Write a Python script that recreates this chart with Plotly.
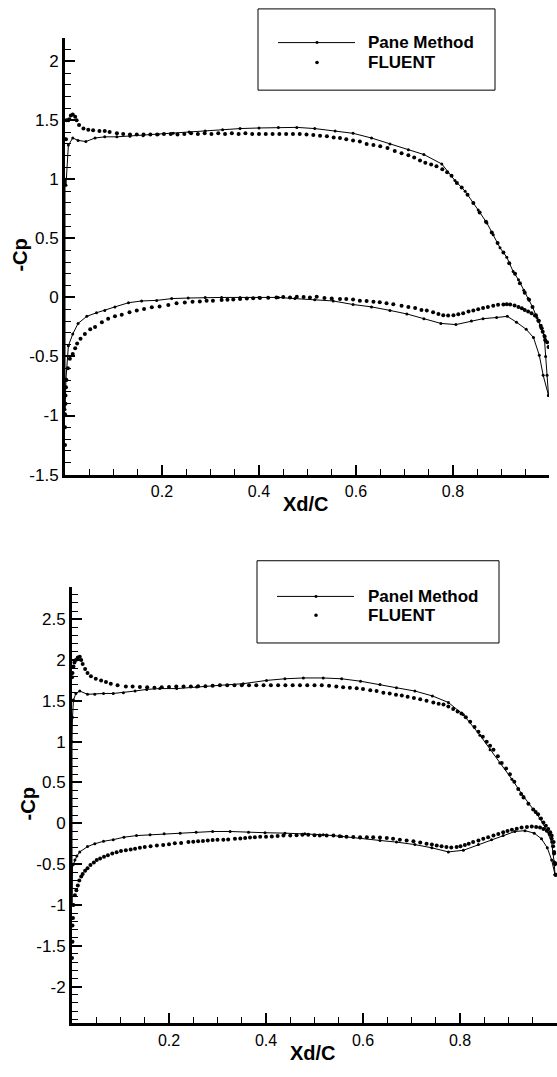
import plotly.graph_objects as go

W, H = 557, 1077
FONT = "Liberation Sans, Arial, sans-serif"

# ---------------- Top chart data ----------------
top_panel_upper_x = [0.000, 0.002, 0.007, 0.016, 0.027, 0.043, 0.062, 0.082, 0.107, 0.134, 0.161, 0.192,
                     0.223, 0.256, 0.289, 0.325, 0.361, 0.400, 0.440, 0.478, 0.515, 0.557, 0.594, 0.632,
                     0.670, 0.708, 0.740, 0.777, 0.804, 0.825, 0.852, 0.870, 0.883, 0.897, 0.911, 0.924,
                     0.935, 0.946, 0.955, 0.964, 0.973, 0.981, 0.988, 0.991, 0.994, 0.997]
top_panel_upper_y = [1.00, 0.95, 1.29, 1.35, 1.33, 1.32, 1.35, 1.36, 1.36, 1.365, 1.37, 1.38,
                     1.39, 1.40, 1.41, 1.42, 1.43, 1.435, 1.44, 1.44, 1.43, 1.41, 1.39, 1.35,
                     1.30, 1.25, 1.21, 1.13, 0.99, 0.90, 0.74, 0.63, 0.53, 0.42, 0.34, 0.22,
                     0.15, 0.06, -0.01, -0.08, -0.17, -0.25, -0.32, -0.50, -0.66, -0.83]
top_panel_lower_x = [0.000, 0.002, 0.007, 0.016, 0.027, 0.045, 0.065, 0.082, 0.103, 0.131, 0.158, 0.189,
                     0.220, 0.254, 0.289, 0.323, 0.361, 0.400, 0.440, 0.474, 0.515, 0.553, 0.594, 0.632,
                     0.670, 0.705, 0.740, 0.775, 0.806, 0.838, 0.862, 0.890, 0.912, 0.931, 0.951, 0.966,
                     0.978, 0.986, 0.997]
top_panel_lower_y = [-0.95, -0.69, -0.41, -0.31, -0.22, -0.16, -0.13, -0.11, -0.08, -0.045, -0.03, -0.025,
                     -0.01, -0.005, 0.0, 0.0, 0.0, 0.0, 0.0, -0.01, -0.02, -0.03, -0.06, -0.08,
                     -0.11, -0.14, -0.18, -0.22, -0.23, -0.20, -0.18, -0.17, -0.16, -0.21, -0.27, -0.34,
                     -0.49, -0.66, -0.83]

top_fluent_upper_x = [0.002, 0.003, 0.007, 0.009, 0.012, 0.016, 0.021, 0.024, 0.029, 0.038, 0.048, 0.058,
                      0.071, 0.082, 0.092, 0.107, 0.120, 0.134, 0.148, 0.162, 0.176, 0.190, 0.204, 0.218,
                      0.232, 0.246, 0.260, 0.274, 0.288, 0.302, 0.316, 0.330, 0.344, 0.358, 0.372, 0.386,
                      0.400, 0.414, 0.428, 0.442, 0.456, 0.470, 0.484, 0.498, 0.512, 0.526, 0.540, 0.554,
                      0.567, 0.580, 0.594, 0.608, 0.622, 0.636, 0.650, 0.665, 0.680, 0.694, 0.708, 0.720,
                      0.732, 0.743, 0.755, 0.766, 0.778, 0.788, 0.797, 0.808, 0.818, 0.830, 0.842, 0.855,
                      0.868, 0.880, 0.892, 0.904, 0.916, 0.928, 0.938, 0.948, 0.957, 0.964, 0.971, 0.977,
                      0.983, 0.989, 0.994]
top_fluent_upper_y = [1.34, 1.50, 1.50, 1.51, 1.54, 1.55, 1.53, 1.50, 1.46, 1.43, 1.42, 1.415,
                      1.41, 1.41, 1.40, 1.39, 1.385, 1.38, 1.38, 1.38, 1.38, 1.38, 1.385, 1.385,
                      1.38, 1.385, 1.39, 1.385, 1.39, 1.385, 1.39, 1.385, 1.39, 1.385, 1.39, 1.385,
                      1.385, 1.385, 1.385, 1.385, 1.385, 1.385, 1.385, 1.38, 1.375, 1.37, 1.365, 1.355,
                      1.35, 1.34, 1.33, 1.32, 1.30, 1.29, 1.28, 1.265, 1.24, 1.22, 1.205, 1.185,
                      1.16, 1.14, 1.125, 1.11, 1.085, 1.06, 1.03, 0.97, 0.93, 0.87, 0.80, 0.72,
                      0.64, 0.55, 0.46, 0.38, 0.29, 0.20, 0.12, 0.04, -0.02, -0.08, -0.15, -0.20,
                      -0.26, -0.33, -0.38]
top_fluent_lower_x = [0.000, 0.000, 0.000, 0.001, 0.001, 0.002, 0.003, 0.006, 0.010, 0.016, 0.021, 0.025,
                      0.032, 0.041, 0.052, 0.062, 0.076, 0.089, 0.103, 0.117, 0.133, 0.148, 0.163, 0.179,
                      0.195, 0.213, 0.230, 0.247, 0.263, 0.278, 0.292, 0.305, 0.323, 0.335, 0.347, 0.361,
                      0.375, 0.388, 0.402, 0.419, 0.436, 0.450, 0.464, 0.478, 0.492, 0.505, 0.519, 0.535,
                      0.550, 0.567, 0.580, 0.594, 0.608, 0.622, 0.636, 0.649, 0.663, 0.677, 0.694, 0.708,
                      0.722, 0.735, 0.746, 0.759, 0.770, 0.780, 0.790, 0.801, 0.811, 0.821, 0.832, 0.842,
                      0.852, 0.862, 0.872, 0.883, 0.893, 0.904, 0.911, 0.918, 0.927, 0.935, 0.942, 0.948,
                      0.955, 0.962, 0.969, 0.976, 0.981, 0.985, 0.990, 0.997]
top_fluent_lower_y = [-1.25, -1.10, -0.99, -0.90, -0.83, -0.76, -0.70, -0.60, -0.52, -0.48, -0.43, -0.39,
                      -0.35, -0.31, -0.27, -0.25, -0.21, -0.18, -0.16, -0.146, -0.126, -0.11, -0.098, -0.084,
                      -0.076, -0.064, -0.05, -0.042, -0.036, -0.034, -0.028, -0.028, -0.022, -0.02, -0.017, -0.014,
                      -0.008, -0.006, -0.005, -0.003, 0.0, 0.003, 0.0, 0.005, 0.004, 0.0, 0.005, -0.004,
                      -0.008, -0.014, -0.014, -0.018, -0.028, -0.03, -0.036, -0.04, -0.05, -0.058, -0.07, -0.08,
                      -0.09, -0.106, -0.11, -0.126, -0.14, -0.15, -0.152, -0.15, -0.142, -0.134, -0.12, -0.11,
                      -0.10, -0.09, -0.08, -0.07, -0.063, -0.06, -0.058, -0.06, -0.068, -0.08, -0.092, -0.106,
                      -0.12, -0.135, -0.154, -0.196, -0.24, -0.29, -0.36, -0.42]

# ---------------- Bottom chart data ----------------
bot_panel_upper_x = [0.000, 0.001, 0.003, 0.008, 0.016, 0.032, 0.047, 0.065, 0.085, 0.106, 0.130, 0.154,
                     0.181, 0.216, 0.257, 0.305, 0.353, 0.401, 0.439, 0.477, 0.518, 0.556, 0.595, 0.635,
                     0.669, 0.707, 0.743, 0.776, 0.807, 0.841, 0.862, 0.882, 0.907, 0.931, 0.951, 0.965,
                     0.979, 0.989, 0.994, 0.996]
bot_panel_upper_y = [1.00, 1.30, 1.51, 1.59, 1.62, 1.58, 1.58, 1.59, 1.59, 1.60, 1.62, 1.64,
                     1.65, 1.65, 1.67, 1.69, 1.71, 1.75, 1.77, 1.78, 1.78, 1.77, 1.74, 1.70,
                     1.66, 1.62, 1.56, 1.48, 1.33, 1.08, 0.90, 0.74, 0.54, 0.33, 0.17, 0.06,
                     -0.09, -0.23, -0.47, -0.63]
bot_panel_lower_x = [0.000, 0.001, 0.003, 0.006, 0.010, 0.016, 0.032, 0.047, 0.065, 0.085, 0.107, 0.133,
                     0.161, 0.190, 0.223, 0.256, 0.290, 0.326, 0.364, 0.398, 0.439, 0.480, 0.518, 0.556,
                     0.594, 0.635, 0.669, 0.707, 0.742, 0.776, 0.807, 0.838, 0.865, 0.889, 0.913, 0.934,
                     0.953, 0.968, 0.980, 0.989, 0.996]
bot_panel_lower_y = [-1.00, -0.51, -0.50, -0.45, -0.40, -0.35, -0.285, -0.25, -0.22, -0.20, -0.17, -0.15,
                     -0.14, -0.127, -0.12, -0.11, -0.10, -0.10, -0.11, -0.115, -0.12, -0.127, -0.14, -0.16,
                     -0.18, -0.21, -0.23, -0.26, -0.30, -0.35, -0.33, -0.26, -0.20, -0.15, -0.10, -0.09,
                     -0.12, -0.19, -0.30, -0.45, -0.63]

bot_fluent_upper_x = [0.000, 0.001, 0.003, 0.005, 0.008, 0.012, 0.016, 0.019, 0.022, 0.027, 0.032, 0.039,
                      0.049, 0.060, 0.070, 0.080, 0.094, 0.111, 0.125, 0.140, 0.155, 0.170, 0.185, 0.200,
                      0.215, 0.230, 0.245, 0.260, 0.275, 0.290, 0.305, 0.320, 0.335, 0.350, 0.365, 0.380,
                      0.395, 0.410, 0.425, 0.440, 0.455, 0.470, 0.485, 0.500, 0.515, 0.530, 0.545, 0.559,
                      0.573, 0.587, 0.600, 0.615, 0.628, 0.642, 0.655, 0.668, 0.680, 0.692, 0.705, 0.718,
                      0.731, 0.745, 0.756, 0.766, 0.776, 0.786, 0.795, 0.803, 0.812, 0.821, 0.830, 0.838,
                      0.847, 0.855, 0.862, 0.869, 0.878, 0.886, 0.895, 0.903, 0.912, 0.920, 0.926, 0.931,
                      0.941, 0.951, 0.956, 0.961, 0.967, 0.972, 0.977, 0.982, 0.986, 0.989, 0.993, 0.994,
                      0.996, 0.998]
bot_fluent_upper_y = [1.79, 1.84, 1.92, 1.97, 2.00, 2.03, 2.04, 2.00, 1.95, 1.89, 1.84, 1.80,
                      1.77, 1.75, 1.73, 1.71, 1.69, 1.675, 1.675, 1.67, 1.665, 1.66, 1.665, 1.67,
                      1.675, 1.675, 1.675, 1.68, 1.68, 1.685, 1.69, 1.69, 1.69, 1.69, 1.69, 1.69,
                      1.69, 1.69, 1.69, 1.69, 1.69, 1.69, 1.69, 1.69, 1.69, 1.685, 1.675, 1.665,
                      1.66, 1.655, 1.645, 1.63, 1.62, 1.60, 1.59, 1.575, 1.565, 1.55, 1.535, 1.52,
                      1.50, 1.48, 1.465, 1.455, 1.43, 1.40, 1.37, 1.345, 1.30, 1.245, 1.18, 1.12,
                      1.06, 1.00, 0.95, 0.90, 0.82, 0.74, 0.67, 0.60, 0.51, 0.42, 0.36, 0.315,
                      0.24, 0.17, 0.14, 0.11, 0.06, 0.01, -0.03, -0.07, -0.11, -0.15, -0.23, -0.35,
                      -0.49, -0.63]
bot_fluent_lower_x = [0.000, 0.001, 0.001, 0.002, 0.003, 0.006, 0.009, 0.012, 0.015, 0.019, 0.022, 0.027,
                      0.032, 0.038, 0.045, 0.051, 0.058, 0.066, 0.074, 0.083, 0.092, 0.101, 0.111, 0.121,
                      0.130, 0.140, 0.150, 0.162, 0.175, 0.188, 0.200, 0.212, 0.225, 0.240, 0.250, 0.260,
                      0.270, 0.280, 0.290, 0.300, 0.312, 0.322, 0.336, 0.347, 0.357, 0.367, 0.377, 0.388,
                      0.400, 0.412, 0.424, 0.436, 0.450, 0.463, 0.475, 0.487, 0.500, 0.511, 0.525, 0.539,
                      0.552, 0.566, 0.580, 0.594, 0.608, 0.621, 0.635, 0.649, 0.662, 0.676, 0.690, 0.704,
                      0.718, 0.731, 0.742, 0.752, 0.762, 0.772, 0.782, 0.793, 0.801, 0.810, 0.818, 0.827,
                      0.838, 0.848, 0.858, 0.869, 0.879, 0.889, 0.898, 0.907, 0.917, 0.927, 0.938, 0.948,
                      0.957, 0.965, 0.972, 0.979, 0.985, 0.989, 0.992, 0.994, 0.996, 0.997]
bot_fluent_lower_y = [-1.65, -1.45, -1.25, -1.16, -1.00, -0.88, -0.82, -0.76, -0.70, -0.65, -0.62, -0.58,
                      -0.55, -0.51, -0.48, -0.45, -0.43, -0.41, -0.39, -0.37, -0.355, -0.34, -0.33, -0.32,
                      -0.31, -0.30, -0.29, -0.28, -0.27, -0.265, -0.255, -0.245, -0.24, -0.23, -0.225, -0.22,
                      -0.215, -0.21, -0.205, -0.20, -0.20, -0.198, -0.19, -0.185, -0.18, -0.175, -0.17, -0.165,
                      -0.165, -0.16, -0.155, -0.15, -0.15, -0.145, -0.14, -0.14, -0.145, -0.15, -0.15, -0.15,
                      -0.158, -0.165, -0.168, -0.17, -0.17, -0.17, -0.175, -0.18, -0.19, -0.20, -0.21, -0.22,
                      -0.235, -0.25, -0.26, -0.27, -0.28, -0.29, -0.295, -0.29, -0.28, -0.265, -0.25, -0.23,
                      -0.21, -0.19, -0.17, -0.15, -0.13, -0.11, -0.095, -0.08, -0.065, -0.05, -0.045, -0.04,
                      -0.045, -0.05, -0.07, -0.09, -0.13, -0.19, -0.28, -0.37, -0.50, -0.63]

# tick labels
x_tickvals = [0.2, 0.4, 0.6, 0.8]
x_ticktext = ["0.2", "0.4", "0.6", "0.8"]
top_y_tickvals = [-1.5, -1, -0.5, 0, 0.5, 1, 1.5, 2]
top_y_ticktext = ["-1.5", "-1", "-0.5", "0", "0.5", "1", "1.5", "2"]
bot_y_tickvals = [-2, -1.5, -1, -0.5, 0, 0.5, 1, 1.5, 2, 2.5]
bot_y_ticktext = ["-2", "-1.5", "-1", "-0.5", "0", "0.5", "1", "1.5", "2", "2.5"]

top_legend_labels = ["Pane Method", "FLUENT"]
bot_legend_labels = ["Panel Method", "FLUENT"]
x_title = "Xd/C"
y_title = "-Cp"


def px_x(p):
    return p / W


def px_y(p):
    return 1 - p / H


fig = go.Figure()


def add_panel(xu, yu, xl, yl, xa, ya):
    fig.add_trace(go.Scatter(
        x=list(reversed(xu)) + xl, y=list(reversed(yu)) + yl,
        mode="lines+markers", line=dict(color="black", width=1),
        marker=dict(color="black", size=3), xaxis=xa, yaxis=ya, showlegend=False,
        name="Panel Method"))


def add_fluent(xu, yu, xl, yl, xa, ya):
    fig.add_trace(go.Scatter(
        x=xu + xl, y=yu + yl, mode="markers",
        marker=dict(color="black", size=4), xaxis=xa, yaxis=ya, showlegend=False,
        name="FLUENT"))


add_panel(top_panel_upper_x, top_panel_upper_y, top_panel_lower_x, top_panel_lower_y, "x", "y")
add_fluent(top_fluent_upper_x, top_fluent_upper_y, top_fluent_lower_x, top_fluent_lower_y, "x", "y")
add_panel(bot_panel_upper_x, bot_panel_upper_y, bot_panel_lower_x, bot_panel_lower_y, "x2", "y2")
add_fluent(bot_fluent_upper_x, bot_fluent_upper_y, bot_fluent_lower_x, bot_fluent_lower_y, "x2", "y2")

xtickfont = dict(family=FONT, size=16, color="black")
ytickfont = dict(family=FONT, size=17, color="black")


def xaxis(domain, rng, anchor):
    return dict(domain=domain, range=rng, anchor=anchor, showline=True, linecolor="black", linewidth=3,
                ticks="inside", ticklen=10, tickwidth=2, tickcolor="black",
                tickmode="array", tickvals=x_tickvals, ticktext=x_ticktext, tickfont=xtickfont,
                minor=dict(tickmode="linear", tick0=0, dtick=0.05, ticks="inside", ticklen=6,
                           tickwidth=1, tickcolor="black", showgrid=False),
                showgrid=False, zeroline=False, mirror=False, fixedrange=True)


def yaxis(domain, rng, anchor, tv, tt):
    return dict(domain=domain, range=rng, anchor=anchor, showline=True, linecolor="black", linewidth=3,
                ticks="inside", ticklen=10, tickwidth=2, tickcolor="black",
                tickmode="array", tickvals=tv, ticktext=tt, tickfont=ytickfont,
                minor=dict(tickmode="linear", tick0=0, dtick=0.1, ticks="inside", ticklen=6,
                           tickwidth=1, tickcolor="black", showgrid=False),
                showgrid=False, zeroline=False, mirror=False, fixedrange=True)


fig.update_layout(
    width=W, height=H, margin=dict(l=0, r=0, t=0, b=0),
    paper_bgcolor="white", plot_bgcolor="white",
    font=dict(family=FONT, color="black"),
    showlegend=False,
    xaxis=xaxis([px_x(65), px_x(549)], [0, 0.998], "y"),
    yaxis=yaxis([px_y(479), px_y(38)], [-1.5, 2.2], "x", top_y_tickvals, top_y_ticktext),
    xaxis2=xaxis([px_x(72), px_x(557)], [0, 1.0], "y2"),
    yaxis2=yaxis([px_y(1033), px_y(592)], [-2.45, 2.9], "x2", bot_y_tickvals, bot_y_ticktext),
)

shapes = []
annotations = []


def legend_box(x0, y0, x1, y1, line_x0, line_x1, dot_x, y_a, y_b, text_x, labels):
    shapes.append(dict(type="rect", xref="paper", yref="paper", x0=px_x(x0), x1=px_x(x1),
                       y0=px_y(y1), y1=px_y(y0), line=dict(color="black", width=1),
                       fillcolor="white", layer="above"))
    shapes.append(dict(type="line", xref="paper", yref="paper", x0=px_x(line_x0), x1=px_x(line_x1),
                       y0=px_y(y_a), y1=px_y(y_a), line=dict(color="black", width=1), layer="above"))
    r = 1.5
    shapes.append(dict(type="circle", xref="paper", yref="paper", x0=px_x(dot_x - r), x1=px_x(dot_x + r),
                       y0=px_y(y_a + r), y1=px_y(y_a - r), line=dict(width=0), fillcolor="black",
                       layer="above"))
    r = 1.8
    shapes.append(dict(type="circle", xref="paper", yref="paper", x0=px_x(dot_x - r), x1=px_x(dot_x + r),
                       y0=px_y(y_b + r), y1=px_y(y_b - r), line=dict(width=0), fillcolor="black",
                       layer="above"))
    for lab, yy in zip(labels, [y_a, y_b]):
        annotations.append(dict(text="<b>%s</b>" % lab, xref="paper", yref="paper", x=px_x(text_x),
                                y=px_y(yy), xanchor="left", yanchor="middle", showarrow=False,
                                font=dict(family=FONT, size=17, color="black")))


legend_box(258, 9, 495, 91, 278, 355, 317, 43, 63, 366, top_legend_labels)
legend_box(257, 566, 499, 649, 277, 354, 316, 602, 621, 366, bot_legend_labels)

title_font = dict(family=FONT, size=20, color="black")
for (xc, yc) in [(306, 509), (313, 1063)]:
    annotations.append(dict(text="<b>%s</b>" % x_title, xref="paper", yref="paper", x=px_x(xc), y=px_y(yc),
                            xanchor="center", yanchor="middle", showarrow=False, font=title_font))
for (xc, yc) in [(20, 258), (28, 812)]:
    annotations.append(dict(text="<b>%s</b>" % y_title, xref="paper", yref="paper", x=px_x(xc), y=px_y(yc),
                            xanchor="center", yanchor="middle", showarrow=False, textangle=-90,
                            font=title_font))

fig.update_layout(shapes=shapes, annotations=annotations)

fig.write_html("out.html")
